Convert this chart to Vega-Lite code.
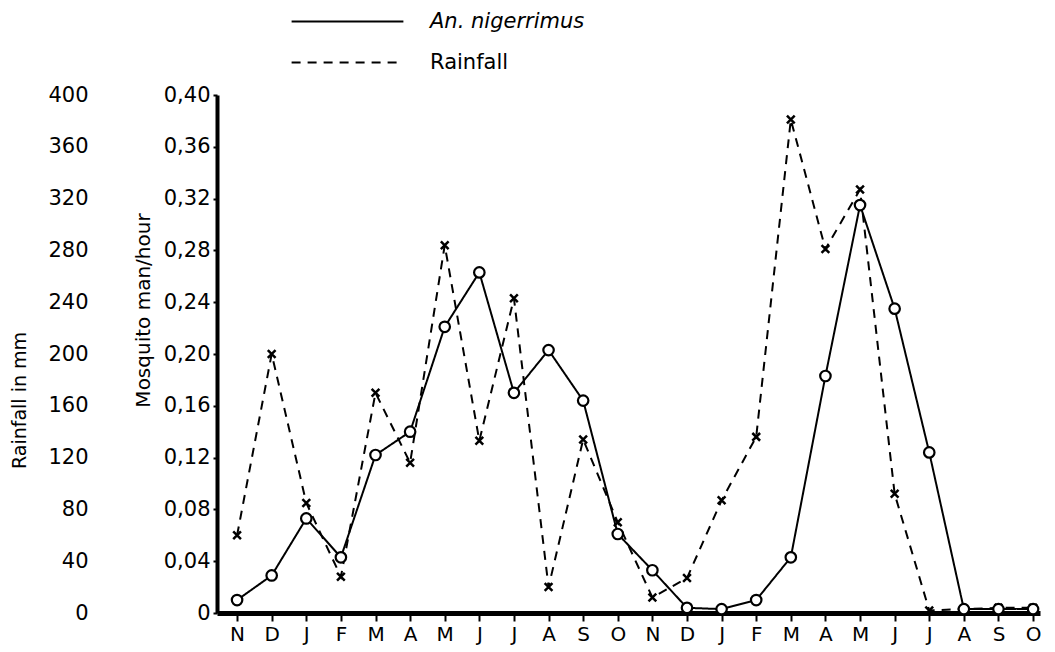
{
  "$schema": "https://vega.github.io/schema/vega-lite/v6.json",
  "width": 823,
  "height": 518,
  "autosize": {"type": "none"},
  "padding": {"left": 217, "top": 95, "right": 15, "bottom": 39},
  "background": "white",
  "config": {
    "font": "DejaVu Sans",
    "view": {"stroke": null},
    "axis": {
      "labelColor": "black",
      "titleColor": "black",
      "domainColor": "black",
      "tickColor": "black",
      "grid": false,
      "labelFont": "DejaVu Sans",
      "titleFont": "DejaVu Sans",
      "titleFontWeight": "normal"
    }
  },
  "data": {
    "values": [
      {"i": 0, "month": "N", "mosq": 0.01, "rain": 60},
      {"i": 1, "month": "D", "mosq": 0.029, "rain": 200},
      {"i": 2, "month": "J", "mosq": 0.073, "rain": 85},
      {"i": 3, "month": "F", "mosq": 0.043, "rain": 28},
      {"i": 4, "month": "M", "mosq": 0.122, "rain": 170},
      {"i": 5, "month": "A", "mosq": 0.14, "rain": 116},
      {"i": 6, "month": "M", "mosq": 0.221, "rain": 284},
      {"i": 7, "month": "J", "mosq": 0.263, "rain": 133},
      {"i": 8, "month": "J", "mosq": 0.17, "rain": 243},
      {"i": 9, "month": "A", "mosq": 0.203, "rain": 20},
      {"i": 10, "month": "S", "mosq": 0.164, "rain": 134},
      {"i": 11, "month": "O", "mosq": 0.061, "rain": 70},
      {"i": 12, "month": "N", "mosq": 0.033, "rain": 12},
      {"i": 13, "month": "D", "mosq": 0.004, "rain": 27},
      {"i": 14, "month": "J", "mosq": 0.003, "rain": 87},
      {"i": 15, "month": "F", "mosq": 0.01, "rain": 136},
      {"i": 16, "month": "M", "mosq": 0.043, "rain": 381},
      {"i": 17, "month": "A", "mosq": 0.183, "rain": 281},
      {"i": 18, "month": "M", "mosq": 0.315, "rain": 327},
      {"i": 19, "month": "J", "mosq": 0.235, "rain": 92},
      {"i": 20, "month": "J", "mosq": 0.124, "rain": 2},
      {"i": 21, "month": "A", "mosq": 0.003, "rain": 3},
      {"i": 22, "month": "S", "mosq": 0.003, "rain": 4},
      {"i": 23, "month": "O", "mosq": 0.003, "rain": 4}
    ]
  },
  "encoding": {
    "x": {
      "field": "i",
      "type": "quantitative",
      "scale": {"domain": [-0.58, 23.2], "nice": false, "zero": false},
      "axis": {
        "title": null,
        "values": [0,1,2,3,4,5,6,7,8,9,10,11,12,13,14,15,16,17,18,19,20,21,22,23],
        "labelExpr": "['N','D','J','F','M','A','M','J','J','A','S','O','N','D','J','F','M','A','M','J','J','A','S','O'][datum.value]",
        "domainWidth": 5,
        "tickSize": 8,
        "tickWidth": 2,
        "labelFontSize": 20,
        "labelPadding": 3,
        "labelFlush": false
      }
    }
  },
  "layer": [
    {
      "encoding": {
        "y": {
          "field": "rain",
          "type": "quantitative",
          "scale": {"domain": [0, 400], "nice": false},
          "axis": {
            "orient": "left",
            "title": "Rainfall in mm",
            "values": [0,40,80,120,160,200,240,280,320,360,400],
            "offset": 122,
            "domain": false,
            "ticks": false,
            "tickSize": 0,
            "labelPadding": 7,
            "labelFontSize": 21,
            "titleFontSize": 19,
            "titlePadding": 18,
            "titleY": 305
          }
        }
      },
      "layer": [
        {
          "mark": {"type": "line", "color": "black", "strokeWidth": 2},
          "encoding": {
            "strokeDash": {
              "datum": "Rainfall",
              "type": "nominal",
              "scale": {"domain": ["An. nigerrimus", "Rainfall"], "range": [[1, 0], [9, 7]]},
              "legend": {
                "orient": "none",
                "legendX": 118,
                "legendY": -86,
                "title": null,
                "symbolType": "M-5,0L5,0",
                "symbolSize": 500,
                "symbolStrokeWidth": 2,
                "symbolStrokeColor": "black",
                "labelFontSize": 21,
                "labelFont": "DejaVu Sans",
                "labelColor": "black",
                "labelOffset": 70,
                "rowPadding": 18,
                "encode": {
                  "labels": {
                    "update": {
                      "fontStyle": {"signal": "datum.label == 'Rainfall' ? 'normal' : 'italic'"}
                    }
                  }
                }
              }
            }
          }
        },
        {
          "mark": {
            "type": "point",
            "shape": "M-1,-1L1,1M1,-1L-1,1",
            "filled": false,
            "color": "black",
            "strokeWidth": 2.5,
            "size": 60,
            "opacity": 1
          },
          "encoding": {}
        }
      ]
    },
    {
      "encoding": {
        "y": {
          "field": "mosq",
          "type": "quantitative",
          "scale": {"domain": [0, 0.4], "nice": false},
          "axis": {
            "orient": "left",
            "title": "Mosquito man/hour",
            "values": [0,0.04,0.08,0.12,0.16,0.2,0.24,0.28,0.32,0.36,0.4],
            "labelExpr": "datum.value == 0 ? '0' : replace(format(datum.value, '.2f'), '.', ',')",
            "domainWidth": 4,
            "tickSize": 4,
            "tickWidth": 2,
            "labelPadding": 3,
            "labelFontSize": 21,
            "titleFontSize": 20,
            "titlePadding": 10,
            "titleY": 215
          }
        }
      },
      "layer": [
        {
          "mark": {"type": "line", "color": "black", "strokeWidth": 2},
          "encoding": {
            "strokeDash": {"datum": "An. nigerrimus", "type": "nominal"}
          }
        },
        {
          "mark": {
            "type": "point",
            "shape": "circle",
            "filled": true,
            "fill": "white",
            "stroke": "black",
            "strokeWidth": 2.2,
            "size": 110,
            "opacity": 1
          },
          "encoding": {}
        }
      ]
    }
  ],
  "resolve": {"scale": {"y": "independent"}, "axis": {"y": "independent"}}
}
